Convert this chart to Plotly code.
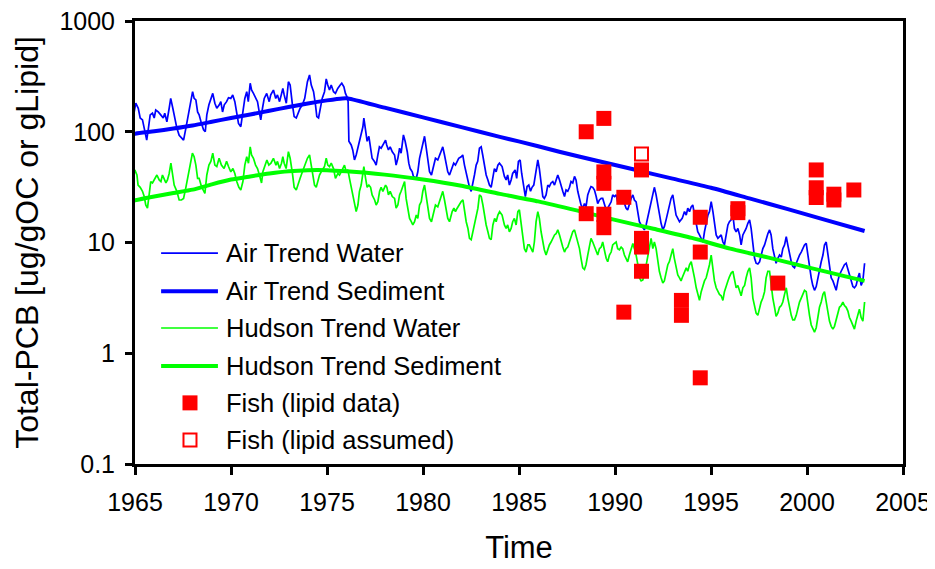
import plotly.graph_objects as go

# ---------------- data ----------------
air_water_year = [
    1964.6, 1964.78, 1964.92, 1965.04, 1965.17, 1965.27, 1965.39, 1965.51, 1965.61, 1965.70,
    1965.79, 1965.91, 1966.0, 1966.08, 1966.21, 1966.34, 1966.47, 1966.55, 1966.66, 1966.78,
    1966.86, 1966.97, 1967.07, 1967.18, 1967.30, 1967.42, 1967.53, 1967.65, 1967.77, 1967.88,
    1968.0, 1968.08, 1968.17, 1968.26, 1968.34, 1968.46, 1968.57, 1968.66, 1968.74, 1968.85,
    1968.95, 1969.05, 1969.16, 1969.26, 1969.39, 1969.47, 1969.56, 1969.65, 1969.77, 1969.87,
    1969.99, 1970.09, 1970.20, 1970.30, 1970.39, 1970.51, 1970.61, 1970.72, 1970.82, 1970.90,
    1971.0, 1971.07, 1971.17, 1971.28, 1971.38, 1971.47, 1971.55, 1971.64, 1971.73, 1971.86,
    1971.99, 1972.07, 1972.21, 1972.33, 1972.42, 1972.53, 1972.63, 1972.70, 1972.77, 1972.88,
    1972.99, 1973.08, 1973.20, 1973.29, 1973.40, 1973.50, 1973.60, 1973.72, 1973.84, 1973.98,
    1974.09, 1974.18, 1974.30, 1974.40, 1974.47, 1974.56, 1974.65, 1974.75, 1974.87, 1974.96,
    1975.04, 1975.13, 1975.22, 1975.34, 1975.44, 1975.56, 1975.69, 1975.77, 1975.88, 1975.96,
    1976.05, 1976.10, 1976.14, 1976.26, 1976.34, 1976.43, 1976.52, 1976.66, 1976.78, 1976.87,
    1976.92, 1977.0, 1977.09, 1977.18, 1977.27, 1977.35, 1977.47, 1977.56, 1977.65, 1977.73,
    1977.82, 1977.91, 1978.05, 1978.11, 1978.20, 1978.29, 1978.40, 1978.52, 1978.60, 1978.69,
    1978.78, 1978.86, 1978.98, 1979.07, 1979.18, 1979.26, 1979.33, 1979.44, 1979.50, 1979.65,
    1979.73, 1979.82, 1979.91, 1979.99, 1980.08, 1980.17, 1980.25, 1980.34, 1980.44, 1980.55,
    1980.65, 1980.77, 1980.86, 1980.95, 1981.03, 1981.12, 1981.21, 1981.29, 1981.38, 1981.52,
    1981.60, 1981.69, 1981.78, 1981.86, 1981.99, 1982.07, 1982.16, 1982.25, 1982.33, 1982.42,
    1982.51, 1982.59, 1982.68, 1982.77, 1982.85, 1982.94, 1983.03, 1983.11, 1983.20, 1983.29,
    1983.38, 1983.46, 1983.55, 1983.64, 1983.72, 1983.81, 1983.90, 1983.98, 1984.12,
    1984.24, 1984.33, 1984.41, 1984.50, 1984.59, 1984.67, 1984.80, 1984.88, 1984.97, 1985.06,
    1985.14, 1985.25, 1985.33, 1985.42, 1985.51, 1985.60, 1985.68, 1985.77, 1985.89, 1985.98,
    1986.06, 1986.15, 1986.24, 1986.32, 1986.41, 1986.50, 1986.58, 1986.67, 1986.76, 1986.85,
    1986.93, 1987.02, 1987.11, 1987.19, 1987.28, 1987.37, 1987.45, 1987.54, 1987.63, 1987.71,
    1987.80, 1987.89, 1987.97, 1988.06, 1988.15, 1988.23, 1988.32, 1988.41, 1988.49, 1988.58,
    1988.67, 1988.75, 1988.84, 1988.93, 1989.02, 1989.10, 1989.19, 1989.28, 1989.36, 1989.45,
    1989.54, 1989.62, 1989.71, 1989.80, 1989.88, 1989.97, 1990.06, 1990.14, 1990.23, 1990.32,
    1990.40, 1990.49, 1990.58, 1990.66, 1990.75, 1990.84, 1990.93, 1991.01, 1991.10, 1991.19,
    1991.27, 1991.36, 1991.45, 1991.53, 1991.62, 1991.71, 1991.79, 1991.88, 1991.97, 1992.05,
    1992.14, 1992.23, 1992.31, 1992.40, 1992.49, 1992.57, 1992.66, 1992.75, 1992.83, 1992.92,
    1993.01, 1993.09, 1993.18, 1993.27, 1993.36,
    1993.50, 1993.62, 1993.71, 1993.79, 1993.88, 1993.97, 1994.05, 1994.14, 1994.23, 1994.31,
    1994.40, 1994.49, 1994.58, 1994.66, 1994.75, 1994.84, 1994.92, 1995.01, 1995.10, 1995.18,
    1995.27, 1995.36, 1995.44, 1995.53, 1995.62, 1995.70, 1995.79, 1995.88, 1995.96, 1996.05,
    1996.14, 1996.22, 1996.31, 1996.40, 1996.49, 1996.57, 1996.66, 1996.75, 1996.83, 1996.92,
    1997.01, 1997.09, 1997.18, 1997.27, 1997.35, 1997.44, 1997.53, 1997.61, 1997.70, 1997.79,
    1997.87, 1997.96, 1998.05, 1998.13, 1998.22, 1998.31, 1998.39, 1998.48, 1998.57, 1998.66,
    1998.74, 1998.83, 1998.92, 1999.00, 1999.09, 1999.18, 1999.26, 1999.35, 1999.44, 1999.52,
    1999.61, 1999.70, 1999.78, 1999.87, 1999.96, 2000.04, 2000.13, 2000.22, 2000.30, 2000.39,
    2000.48, 2000.56, 2000.65, 2000.74, 2000.83, 2000.91, 2001.0, 2001.09, 2001.17, 2001.26,
    2001.35, 2001.43, 2001.52, 2001.61, 2001.69, 2001.78, 2001.87, 2001.95, 2002.04, 2002.13,
    2002.21, 2002.30, 2002.39, 2002.47, 2002.56, 2002.65, 2002.73, 2002.82, 2002.91, 2003.0,
]
air_water_val = [
    68.5, 101, 133, 181, 163, 133, 128, 104, 84, 108,
    142, 147, 133, 157, 151, 142, 133, 147, 123, 163,
    200, 163, 133, 108, 93, 87, 84, 108, 142, 187,
    230, 200, 194, 151, 142, 119, 104, 100, 142, 175,
    194, 222, 181, 163, 175, 187, 151, 175, 187, 203,
    200, 215, 187, 142, 119, 111, 142, 200, 230, 187,
    274, 238, 222, 200, 187, 151, 128, 163, 200, 222,
    187, 215, 238, 200, 215, 187, 215, 246, 215, 181,
    283, 264, 175, 137, 133, 151, 163, 175, 200, 283,
    326, 264, 230, 175, 137, 133, 163, 200, 230, 300,
    264, 238, 264, 230, 222, 246, 264, 274, 255, 222,
    205, 187, 82, 76, 68.5, 55.6, 61.7, 79, 101, 111,
    133, 101, 82, 91, 68.5, 57.6, 54, 50, 61.7, 73,
    71, 76, 84, 76, 68.5, 73, 66, 61.7, 50, 57.6,
    71, 64, 93.5, 82, 66, 52, 46.5, 43.5, 39.5, 38,
    43.5, 57.6, 68.5, 76, 91, 71, 54, 43.5, 40.7, 48.5,
    57.6, 55.6, 61.7, 68.5, 73, 61.7, 50, 43.5, 40.7, 46.5,
    52, 50, 54, 57.6, 59.5, 61.7, 50, 42, 36.7, 31.5,
    29, 33, 40.7, 50, 54, 71, 73, 61.7, 50, 40.7,
    36.7, 33, 31.5, 40.7, 46.5, 43.5, 50, 52, 48.5,
    39.5, 36.7, 40.7, 33, 36.7, 42, 45.2, 38, 54, 55.6,
    42, 31.5, 26, 32, 33, 29, 31.5, 33, 46.5, 55.6,
    46.5, 35.5, 26, 25, 26.9, 33, 32, 34.5, 35.5, 33,
    36.7, 40.7, 36.7, 32, 29, 26, 29.8, 29, 31.5, 35.5,
    34.5, 39.5, 36.7, 29, 24.2, 21.8, 20.4, 22.5, 21, 26.9,
    29.8, 32, 31.5, 29.8, 26, 22.5, 24.2, 25, 25, 21.8,
    19.7, 20.4, 21.8, 23.3, 26.9, 26, 26.9, 23.3, 24.2, 26,
    25, 22.5, 20.4, 19.7, 22.5, 25, 26.9, 24.2, 23.3, 19.0,
    15.4, 14.4, 13.4, 13.0, 14.4, 17.2, 20.4, 24.2, 27.8, 31.5,
    26.9, 21.8, 17.2, 14.9, 13.0, 13.9, 16.0, 19.0, 21, 25,
    26.9, 21.8, 17.7, 16.5, 15.4,
    16.5, 19.0, 17.7, 20.4, 19.0, 21, 21.8, 17.7, 14.4, 12.5,
    11.7, 10.9, 10.1, 12.5, 15.4, 17.7, 19.0, 23.4, 19.0, 15.4,
    11.7, 10.9, 11.3, 11.7, 10.1, 9.5, 11.7, 14.4, 15.4, 16.0,
    17.7, 13.4, 12.5, 13.4, 11.7, 9.5, 11.7, 12.5, 13.4, 14.9,
    16.0, 13.4, 10.1, 7.2, 6.5, 6.4, 6.7, 7.7, 8.8, 9.5,
    10.9, 12.0, 13.0, 11.7, 8.8, 7.2, 6.5, 7.2, 7.7, 7.4,
    8.8, 9.5, 11.3, 9.5, 7.7, 6.7, 6.1, 5.9, 6.5, 7.2,
    7.7, 8.2, 8.8, 9.5, 9.8, 7.7, 6.3, 4.8, 4.1, 3.7,
    4.0, 4.8, 5.9, 6.7, 7.7, 9.5, 10.1, 7.7, 5.9, 4.8,
    4.5, 4.0, 3.7, 4.5, 5.1, 5.5, 5.9, 6.3, 6.5, 5.7,
    5.1, 4.5, 4.0, 3.9, 4.1, 4.8, 5.3, 4.1, 4.5, 6.5,
]

air_sed_year = [1964.6, 1965, 1966, 1967, 1968, 1969, 1970, 1971, 1972, 1973, 1974, 1975,
                1975.8, 1976.1, 1978, 1980, 1982, 1984, 1986, 1987.1, 1989, 1991, 1993,
                1995, 1997, 1999, 2001, 2003]
air_sed_val = [92, 96, 101, 107, 114, 123, 133, 143, 155, 167, 180, 192,
               200, 200, 165, 135, 110, 90, 74, 66, 55, 45.6, 37.7,
               31.2, 25, 20, 15.9, 12.7]

hud_water_year = [
    1964.61, 1964.75, 1964.87, 1964.99, 1965.10, 1965.16, 1965.27, 1965.39, 1965.48, 1965.56,
    1965.65, 1965.74, 1965.82, 1965.91, 1966.03, 1966.14, 1966.26, 1966.35, 1966.43, 1966.52,
    1966.61, 1966.69, 1966.78, 1966.87, 1966.95, 1967.04, 1967.18, 1967.30, 1967.42, 1967.53,
    1967.65, 1967.77, 1967.87, 1967.99, 1968.08, 1968.17, 1968.26, 1968.34, 1968.46, 1968.57,
    1968.64, 1968.74, 1968.85, 1968.95, 1969.05, 1969.16, 1969.26, 1969.38, 1969.50, 1969.64,
    1969.77, 1969.87, 1969.99, 1970.10, 1970.20, 1970.30, 1970.41, 1970.51, 1970.62, 1970.72,
    1970.82, 1970.91, 1971.0, 1971.07, 1971.17, 1971.28, 1971.38, 1971.48, 1971.59, 1971.66,
    1971.76, 1971.87, 1971.97, 1972.08, 1972.21, 1972.34, 1972.42, 1972.53, 1972.63, 1972.70,
    1972.77, 1972.87, 1972.99, 1973.08, 1973.20, 1973.29, 1973.40, 1973.50, 1973.60, 1973.72,
    1973.85, 1973.98,
    1974.09, 1974.18, 1974.26, 1974.35, 1974.44, 1974.52, 1974.61, 1974.70, 1974.78, 1974.87,
    1974.96, 1975.04, 1975.13, 1975.22, 1975.34, 1975.44, 1975.57, 1975.65, 1975.74, 1975.83,
    1975.91, 1976.0, 1976.09, 1976.17, 1976.26, 1976.35, 1976.43, 1976.52, 1976.61, 1976.69,
    1976.78, 1976.87, 1976.92, 1977.01, 1977.09, 1977.18, 1977.27, 1977.35, 1977.48, 1977.56,
    1977.65, 1977.74, 1977.82, 1977.91, 1978.05, 1978.12, 1978.20, 1978.29, 1978.40, 1978.52,
    1978.60, 1978.69, 1978.78, 1978.86, 1978.95, 1979.04, 1979.12, 1979.21, 1979.30, 1979.39,
    1979.47, 1979.56, 1979.65, 1979.73, 1979.82, 1979.91, 1979.99, 1980.08, 1980.17, 1980.25,
    1980.34, 1980.44, 1980.55, 1980.65, 1980.77, 1980.86, 1980.95, 1981.03, 1981.12, 1981.21,
    1981.29, 1981.38, 1981.52, 1981.61, 1981.69, 1981.78, 1981.87, 1981.99, 1982.08, 1982.16,
    1982.25, 1982.34, 1982.42, 1982.51, 1982.60, 1982.68, 1982.77, 1982.86, 1982.94, 1983.03,
    1983.12, 1983.20, 1983.29, 1983.38, 1983.46, 1983.55, 1983.64, 1983.73, 1983.81, 1983.90,
    1983.99, 1984.12,
    1984.24, 1984.33, 1984.41, 1984.50, 1984.59, 1984.67, 1984.76, 1984.85, 1984.94, 1985.02,
    1985.11, 1985.20, 1985.28, 1985.37, 1985.46, 1985.54, 1985.63, 1985.72, 1985.80, 1985.89,
    1985.98, 1986.06, 1986.15, 1986.24, 1986.32, 1986.41, 1986.50, 1986.58, 1986.67, 1986.76,
    1986.85, 1986.93, 1987.02, 1987.11, 1987.19, 1987.28, 1987.37, 1987.45, 1987.54, 1987.63,
    1987.71, 1987.80, 1987.89, 1987.97, 1988.06, 1988.15, 1988.23, 1988.32, 1988.41, 1988.49,
    1988.58, 1988.67, 1988.75, 1988.84, 1988.93, 1989.02, 1989.10, 1989.19, 1989.28, 1989.36,
    1989.45, 1989.54, 1989.62, 1989.71, 1989.80, 1989.88, 1989.97, 1990.06, 1990.14, 1990.23,
    1990.32, 1990.40, 1990.49, 1990.58, 1990.66, 1990.75, 1990.84, 1990.93, 1991.01, 1991.10,
    1991.19, 1991.27, 1991.36, 1991.45, 1991.53, 1991.62, 1991.71, 1991.79, 1991.88, 1991.97,
    1992.05, 1992.14, 1992.23, 1992.31, 1992.40, 1992.49, 1992.57, 1992.66, 1992.75, 1992.83,
    1992.92, 1993.01, 1993.09, 1993.18, 1993.27, 1993.36, 1993.44,
    1993.50, 1993.62, 1993.71, 1993.79, 1993.88, 1993.97, 1994.05, 1994.14, 1994.23, 1994.31,
    1994.40, 1994.49, 1994.58, 1994.66, 1994.75, 1994.84, 1994.92, 1995.01, 1995.10, 1995.18,
    1995.27, 1995.36, 1995.44, 1995.53, 1995.62, 1995.70, 1995.79, 1995.88, 1995.96, 1996.05,
    1996.14, 1996.22, 1996.31, 1996.40, 1996.49, 1996.57, 1996.66, 1996.75, 1996.83, 1996.92,
    1997.01, 1997.09, 1997.18, 1997.27, 1997.35, 1997.44, 1997.53, 1997.61, 1997.70, 1997.79,
    1997.87, 1997.96, 1998.05, 1998.13, 1998.22, 1998.31, 1998.39, 1998.48, 1998.57, 1998.66,
    1998.74, 1998.83, 1998.92, 1999.00, 1999.09, 1999.18, 1999.26, 1999.35, 1999.44, 1999.52,
    1999.61, 1999.70, 1999.78, 1999.87, 1999.96, 2000.04, 2000.13, 2000.22, 2000.30, 2000.39,
    2000.48, 2000.56, 2000.65, 2000.74, 2000.83, 2000.91, 2001.0, 2001.09, 2001.17, 2001.26,
    2001.35, 2001.43, 2001.52, 2001.61, 2001.69, 2001.78, 2001.87, 2001.95, 2002.04, 2002.13,
    2002.21, 2002.30, 2002.39, 2002.47, 2002.56, 2002.65, 2002.73, 2002.82, 2002.91, 2003.0,
]
hud_water_val = [
    17.7, 25, 33, 45.2, 40.7, 33, 31.5, 29, 26, 21.8,
    20.4, 27.8, 35.5, 34.5, 38, 40.7, 36.7, 35.5, 40.7, 38,
    34.5, 36.7, 42, 52, 40.7, 33, 29, 24.2, 24.2, 25,
    31.5, 40.7, 48.5, 64, 59.5, 50, 38, 38, 32, 29,
    27.8, 40.7, 50, 54, 64, 50, 48.5, 57.6, 50, 46.5,
    54, 48.5, 43.5, 46.5, 42, 35.5, 31.5, 29.8, 35.5, 50,
    59.5, 52, 73, 61.7, 57.6, 50, 46.5, 40.7, 34.5, 43.5,
    50, 55.5, 50, 52, 57.6, 50, 54, 46.5, 52, 59.5,
    52, 46.5, 66, 57.6, 42, 31.5, 29.8, 34.5, 38, 43.5,
    50, 57.6,
    61.7, 50, 40.7, 33, 31.5, 36.7, 40.7, 43.5, 46.5, 48.5,
    57.6, 50, 48.5, 52, 46.5, 38, 42, 40.7, 43.5, 46.5,
    50, 43.5, 45.2, 38, 31.5, 25, 21.8, 19.0, 21.8, 29,
    33, 40.7, 48.5, 38, 31.5, 33, 31.5, 26.9, 24.2, 21.8,
    23.4, 29, 31.5, 29, 33, 31.5, 26.9, 29, 26, 25,
    20.4, 21.8, 26.9, 29, 31.5, 35.5, 25, 20.4, 16.5, 15.4,
    14.4, 15.4, 17.7, 16.5, 21.8, 23.4, 29, 33, 25, 20.4,
    16.5, 15.4, 19.0, 21.8, 21, 23.4, 26, 29, 24.2, 19.0,
    16.5, 15.4, 19.0, 20.4, 19.0, 20.4, 21.8, 23.4, 24.2, 19.0,
    15.4, 13.4, 10.9, 10.6, 12.5, 15.4, 17.7, 20.4, 26.9, 26,
    21.8, 17.7, 14.4, 12.5, 10.9, 10.6, 14.4, 16.5, 15.4, 17.7,
    19.0, 17.7,
    14.4, 13.4, 14.4, 12.5, 13.4, 15.4, 16.5, 14.4, 19.0, 19.7,
    15.4, 11.7, 8.8, 8.2, 9.5, 9.5, 8.8, 8.2, 10.1, 15.4,
    19.0, 16.5, 12.5, 10.1, 8.6, 7.7, 8.8, 9.5, 10.1, 10.9,
    11.7, 12.0, 13.0, 11.7, 10.1, 9.1, 8.2, 8.8, 9.1, 10.1,
    10.9, 12.5, 13.0, 11.7, 10.1, 8.8, 7.2, 5.9, 5.7, 6.3,
    7.7, 9.5, 10.9, 10.1, 9.1, 8.2, 7.7, 8.8, 9.1, 10.1,
    8.2, 7.2, 6.7, 7.7, 8.2, 9.5, 9.8, 10.1, 8.8, 8.6,
    9.1, 8.8, 7.7, 7.2, 6.7, 7.7, 8.8, 9.8, 8.8, 7.7,
    6.3, 4.8, 4.5, 4.6, 5.1, 6.3, 7.7, 9.5, 10.9, 8.8,
    10.1, 8.8, 6.7, 5.5, 4.8, 4.3, 4.5, 5.5, 6.3, 6.7,
    7.7, 8.8, 7.2, 5.9, 5.1, 4.8, 4.5,
    4.8, 5.3, 5.9, 5.5, 6.3, 6.7, 5.9, 4.8, 3.9, 3.4,
    3.0, 3.6, 4.1, 4.5, 4.8, 5.5, 6.3, 7.7, 5.9, 4.5,
    3.9, 3.6, 3.4, 3.3, 3.0, 3.6, 4.1, 4.5, 4.9, 5.3,
    5.5, 4.5, 3.9, 4.1, 3.6, 3.3, 3.9, 4.1, 4.8, 5.5,
    5.9, 4.8, 3.15, 2.6, 2.3, 2.2, 2.6, 2.9, 3.15, 3.6,
    4.8, 5.5, 5.5, 4.1, 3.15, 2.6, 2.15, 2.3, 2.6, 2.7,
    2.9, 3.4, 3.9, 3.15, 2.6, 2.2, 2.0, 2.0, 2.2, 2.6,
    2.9, 3.15, 3.4, 3.7, 3.6, 2.7, 2.2, 1.8, 1.65, 1.55,
    1.7, 2.1, 2.6, 2.9, 3.4, 3.6, 2.9, 2.2, 1.95, 1.75,
    1.65, 1.75, 2.0, 2.4, 2.6, 2.7, 2.9, 2.7, 2.6, 2.4,
    2.1, 1.95, 1.8, 1.65, 1.95, 2.2, 2.5, 2.1, 1.95, 2.9,
]

hud_sed_year = [1964.6, 1965, 1966, 1967, 1968, 1969, 1970, 1971, 1972, 1973, 1974, 1975,
                1976, 1978, 1980, 1982, 1984, 1986, 1988, 1990, 1992, 1994, 1996, 1998,
                2000, 2002, 2003]
hud_sed_val = [23, 24, 26, 28, 30, 33.5, 37, 39.5, 42, 44, 45, 45,
               44, 41, 37, 32.5, 27.5, 23.5, 19.5, 16, 13.3, 11, 8.8, 7.3,
               6.0, 4.95, 4.5]

fish_year = [1988.5, 1988.5, 1989.42, 1989.42, 1989.42, 1989.42, 1989.42, 1990.46, 1990.46,
             1991.38, 1991.38, 1991.38, 1991.38, 1993.46, 1993.46, 1994.44, 1994.44, 1994.44,
             1996.4, 1996.4, 1998.48, 2000.48, 2000.48, 2000.48, 2001.4, 2001.4, 2002.44]
fish_val = [100, 18.2, 132, 43.4, 34.2, 18, 13.6, 25.6, 2.35,
            45.2, 10.9, 9.1, 5.5, 3.0, 2.2, 16.9, 8.2, 0.6,
            20.2, 18.6, 4.3, 45.2, 31.2, 25.5, 27.3, 24.2, 29.8]

fish_assumed_year = [1991.38]
fish_assumed_val = [63]

x_ticks = [1965, 1970, 1975, 1980, 1985, 1990, 1995, 2000, 2005]
y_ticks = [0.1, 1, 10, 100, 1000]
y_tick_text = ["0.1", "1", "10", "100", "1000"]

legend_names = ["Air Trend Water", "Air Trend Sediment", "Hudson Trend Water",
                "Hudson Trend Sediment", "Fish (lipid data)", "Fish (lipid assumed)"]

# ---------------- styling ----------------
BLUE = "#0000FF"
GREEN = "#00FF00"
RED = "#FF0000"
FONT = "Liberation Sans, Arial, sans-serif"

fig = go.Figure()
fig.add_trace(go.Scatter(x=air_water_year, y=air_water_val, mode="lines",
                         line=dict(color=BLUE, width=1.7), name=legend_names[0]))
fig.add_trace(go.Scatter(x=air_sed_year, y=air_sed_val, mode="lines",
                         line=dict(color=BLUE, width=4, shape="spline", smoothing=0.6),
                         name=legend_names[1]))
fig.add_trace(go.Scatter(x=hud_water_year, y=hud_water_val, mode="lines",
                         line=dict(color=GREEN, width=1.7), name=legend_names[2]))
fig.add_trace(go.Scatter(x=hud_sed_year, y=hud_sed_val, mode="lines",
                         line=dict(color=GREEN, width=4, shape="spline", smoothing=0.6),
                         name=legend_names[3]))
fig.add_trace(go.Scatter(x=fish_year, y=fish_val, mode="markers",
                         marker=dict(symbol="square", size=15, color=RED, line=dict(width=0)),
                         name=legend_names[4]))
fig.add_trace(go.Scatter(x=fish_assumed_year, y=fish_assumed_val, mode="markers",
                         marker=dict(symbol="square", size=13, color="white",
                                     line=dict(width=2, color=RED)),
                         name=legend_names[5]))

# ---- hand-drawn legend (long line samples like the original) ----
leg_y = [0.476, 0.390, 0.307, 0.221, 0.138, 0.054]
leg_line_x0, leg_line_x1 = 0.034, 0.108
leg_mark_x = 0.0716
leg_text_x = 0.116
shapes = []
annotations = []
line_styles = [(BLUE, 1.7), (BLUE, 4), (GREEN, 1.7), (GREEN, 4)]
for i, (c, w) in enumerate(line_styles):
    shapes.append(dict(type="line", xref="paper", yref="paper", x0=leg_line_x0, x1=leg_line_x1,
                       y0=leg_y[i], y1=leg_y[i], line=dict(color=c, width=w)))
shapes.append(dict(type="rect", xref="paper", yref="paper", xsizemode="pixel", ysizemode="pixel",
                   xanchor=leg_mark_x, yanchor=leg_y[4], x0=-7.5, x1=7.5, y0=-7.5, y1=7.5,
                   fillcolor=RED, line=dict(width=0)))
shapes.append(dict(type="rect", xref="paper", yref="paper", xsizemode="pixel", ysizemode="pixel",
                   xanchor=leg_mark_x, yanchor=leg_y[5], x0=-6.5, x1=6.5, y0=-6.5, y1=6.5,
                   fillcolor="white", line=dict(width=2, color=RED)))
for i, name in enumerate(legend_names):
    annotations.append(dict(xref="paper", yref="paper", x=leg_text_x, y=leg_y[i], text=name,
                            showarrow=False, xanchor="left", yanchor="middle",
                            font=dict(family=FONT, size=25.5, color="black")))

# The page body has an 8px margin, so the figure is sized 8px smaller than the window
fig.update_layout(
    width=927, height=561,
    margin=dict(l=127, r=32, t=13, b=105),
    paper_bgcolor="white", plot_bgcolor="white",
    showlegend=False,
    font=dict(family=FONT, color="black"),
    shapes=shapes, annotations=annotations,
)
fig.update_xaxes(
    range=[1965, 2005], tickmode="array", tickvals=x_ticks, automargin=False,
    ticks="outside", ticklen=8, tickwidth=3, tickcolor="black", ticklabelstandoff=6,
    ticklabeloverflow="allow",
    showline=True, linewidth=3, linecolor="black", mirror=True,
    showgrid=False, zeroline=False,
    tickfont=dict(family=FONT, size=25, color="black"),
    title=dict(text="Time", font=dict(family=FONT, size=31, color="black"), standoff=22),
)
fig.update_yaxes(
    type="log", range=[-1, 3], tickmode="array", tickvals=y_ticks, ticktext=y_tick_text,
    automargin=False,
    ticks="outside", ticklen=7, tickwidth=3, tickcolor="black", ticklabelstandoff=5,
    ticklabeloverflow="allow",
    showline=True, linewidth=3, linecolor="black", mirror=True,
    showgrid=False, zeroline=False,
    tickfont=dict(family=FONT, size=25, color="black"),
    title=dict(text="Total-PCB [ug/gOC or gLipid]", font=dict(family=FONT, size=32, color="black"),
               standoff=12),
)

fig.write_html("out.html")
